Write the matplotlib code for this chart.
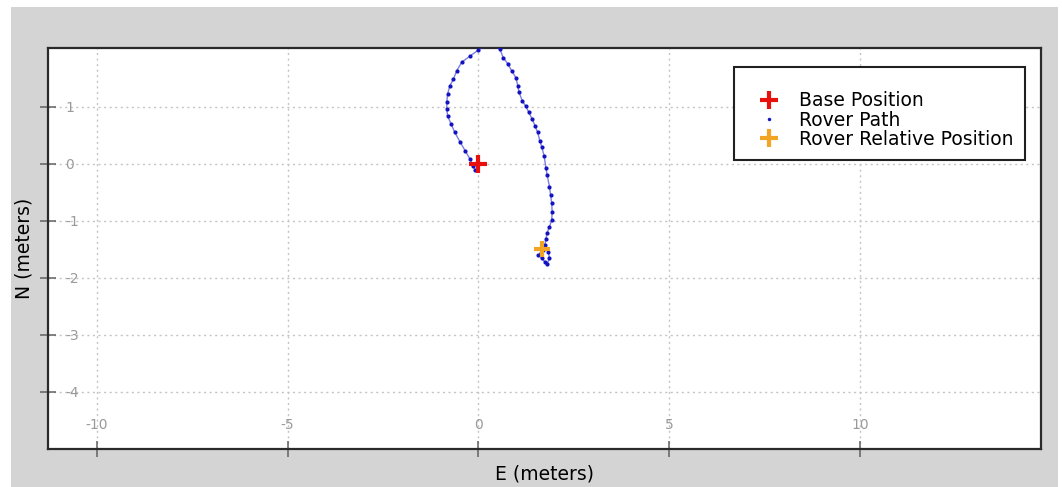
import matplotlib
matplotlib.use("Agg")
import matplotlib.pyplot as plt
from matplotlib.lines import Line2D
from matplotlib.patches import Rectangle

plt.rcParams["axes.unicode_minus"] = False

# rover path (E, N in meters)
path_e = [-0.09, -0.14, -0.22, -0.35, -0.48, -0.62, -0.72, -0.81, -0.83, -0.83,
          -0.81, -0.75, -0.66, -0.57, -0.44, -0.22, -0.01, 0.28,
          0.56, 0.65, 0.77, 0.87, 0.98, 1.03, 1.06, 1.15, 1.24, 1.32, 1.41,
          1.48, 1.55, 1.61, 1.66, 1.72, 1.77, 1.80, 1.86, 1.89, 1.92, 1.93,
          1.92, 1.86, 1.80, 1.77, 1.74, 1.70, 1.63, 1.57, 1.66, 1.74, 1.80,
          1.86, 1.83]
path_n = [-0.11, -0.04, 0.08, 0.23, 0.38, 0.55, 0.70, 0.84, 0.96, 1.08,
          1.22, 1.37, 1.48, 1.63, 1.78, 1.89, 1.99, 2.12,
          2.01, 1.86, 1.75, 1.63, 1.51, 1.37, 1.26, 1.10, 1.01, 0.90, 0.78,
          0.67, 0.55, 0.40, 0.29, 0.14, -0.08, -0.20, -0.40, -0.55, -0.69, -0.84,
          -0.99, -1.10, -1.21, -1.31, -1.42, -1.51, -1.57, -1.60, -1.66, -1.72, -1.75,
          -1.66, -1.54]

base_pos = (0.0, 0.0)
rover_pos = (1.66, -1.50)

x_ticks = [-10, -5, 0, 5, 10]
y_ticks = [-4, -3, -2, -1, 0, 1]

W, H = 1062, 487
fig = plt.figure(figsize=(W / 100, H / 100), dpi=100, facecolor="white")
fig.patches.append(Rectangle((11 / W, 0), (1058 - 11) / W, (487 - 7) / H,
                             transform=fig.transFigure, facecolor="#d4d4d4",
                             edgecolor="none", zorder=-10))

ax = fig.add_axes([48 / W, (487 - 449) / H, (1041 - 48) / W, (449 - 48) / H])
ax.set_facecolor("white")

# path: thin faint line under small dots
ax.plot(path_e, path_n, color="#2a2ad0", lw=1.0, alpha=0.6, zorder=3)
ax.plot(path_e, path_n, ls="none", marker="o", ms=3.0, mew=0,
        mfc="#1212c0", zorder=3)
ax.plot(*base_pos, marker="+", ms=13, mew=3, color="#e8100c", zorder=4)
ax.plot(*rover_pos, marker="+", ms=12, mew=3, color="#f2a524", zorder=4)

ax.set_xlim(-11.28, 14.74)
ax.set_ylim(-5.0, 2.03)
ax.set_xticks(x_ticks)
ax.set_yticks(y_ticks)

ax.grid(True, color="#c4c4c4", lw=1.0, linestyle=(0, (1.5, 2.5)))
ax.set_axisbelow(True)

for s in ax.spines.values():
    s.set_color("#2a2a2a")
    s.set_linewidth(1.6)

ax.tick_params(axis="both", direction="inout", length=11, width=1.1,
               color="#606060", labelcolor="#9a9a9a", labelsize=10)
ax.tick_params(axis="x", pad=-27.8)
ax.tick_params(axis="y", pad=-17.7)
for lbl in ax.get_yticklabels():
    lbl.set_horizontalalignment("left")

ax.set_xlabel("E (meters)", fontsize=13.5, labelpad=6)
ax.set_ylabel("N (meters)", fontsize=13.5, labelpad=5)

handles = [
    Line2D([], [], ls="none", marker="+", ms=13, mew=3, color="#e8100c"),
    Line2D([], [], ls="none", marker="o", ms=2.5, mew=0, color="#1414c8"),
    Line2D([], [], ls="none", marker="+", ms=13, mew=3, color="#f2a524"),
]
leg = ax.legend(handles, ["Base Position", "Rover Path", "Rover Relative Position"],
                loc="upper right", bbox_to_anchor=(1 - 16 / 993, 1 - 19 / 401),
                borderaxespad=0, fontsize=13.5, fancybox=False, framealpha=1,
                edgecolor="#202020", borderpad=0.6, handlelength=2.6,
                handletextpad=0.3, labelspacing=0.01, title=" ", title_fontsize=9)
leg.get_frame().set_linewidth(1.5)

fig.savefig("out.png", dpi=100, facecolor=fig.get_facecolor())
